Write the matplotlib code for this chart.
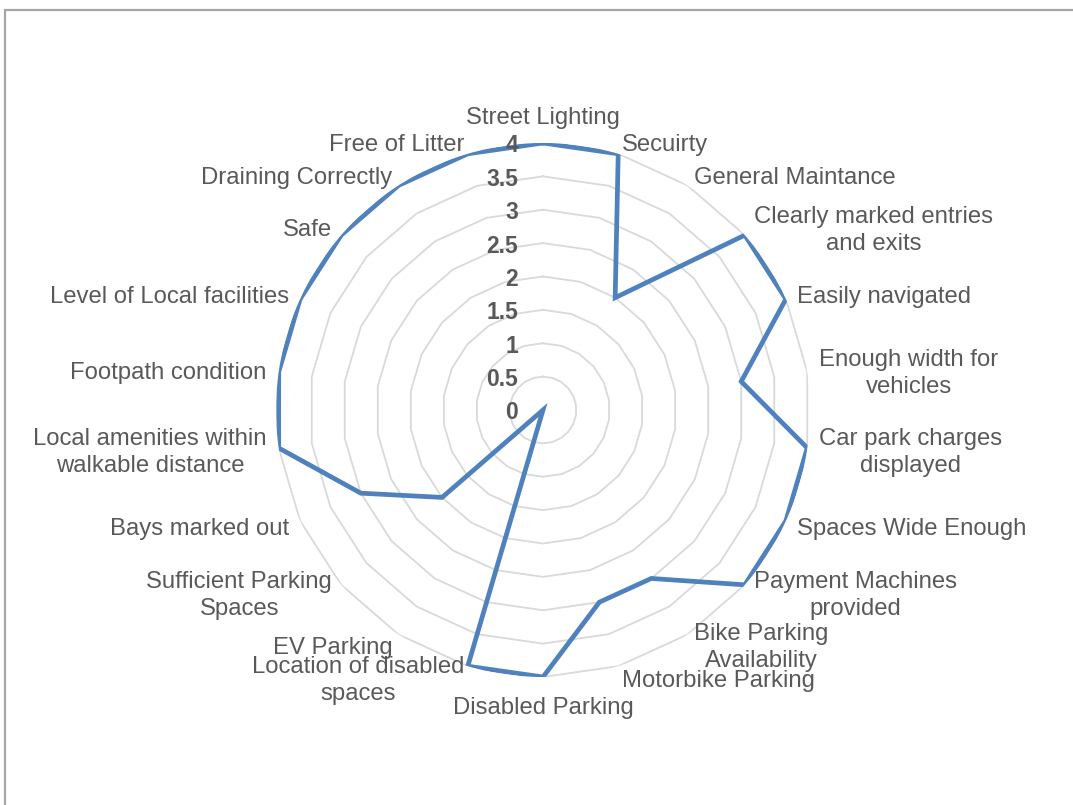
import numpy as np
import matplotlib
matplotlib.use('Agg')
import matplotlib.pyplot as plt
from matplotlib.patches import Rectangle

categories = [
    'Street Lighting', 'Secuirty', 'General Maintance',
    'Clearly marked entries\nand exits', 'Easily navigated',
    'Enough width for\nvehicles', 'Car park charges\ndisplayed',
    'Spaces Wide Enough', 'Payment Machines\nprovided',
    'Bike Parking\nAvailability', 'Motorbike Parking', 'Disabled Parking',
    'Location of disabled\nspaces', 'EV Parking',
    'Sufficient Parking\nSpaces', 'Bays marked out',
    'Local amenities within\nwalkable distance', 'Footpath condition',
    'Level of Local facilities', 'Safe', 'Draining Correctly',
    'Free of Litter',
]
scores = [4, 4, 2, 4, 4, 3, 4, 4, 4, 3, 3, 4, 4, 0, 2, 3, 4, 4, 4, 4, 4, 4]
ring_levels = [0.5, 1, 1.5, 2, 2.5, 3, 3.5, 4]
ring_labels = ['0', '0.5', '1', '1.5', '2', '2.5', '3', '3.5', '4']

plt.rcParams['font.family'] = ['Liberation Sans', 'DejaVu Sans']
TEXT = '#595959'
LINE = '#4f81bd'

fig = plt.figure(figsize=(10.73, 8.05), dpi=100)
fig.patches.append(Rectangle((5 / 1073, -0.1), 1.2, 1 - 10 / 805 + 0.1,
                             transform=fig.transFigure, fill=False,
                             edgecolor='#a6a6a6', linewidth=1.6))

ax = fig.add_axes([0.2572, 0.159, 0.4977, 0.6634], projection='polar')
ax.set_theta_zero_location('N')
ax.set_theta_direction(-1)
ax.set_ylim(0, 4)
ax.grid(False)
ax.spines['polar'].set_visible(False)
ax.set_xticks([])
ax.set_yticks([])

n = len(categories)
angles = np.arange(n) * 2 * np.pi / n
closed = np.append(angles, angles[0])

# polygon grid rings
for lvl in ring_levels:
    ax.plot(closed, [lvl] * (n + 1), color='#d9d9d9', lw=1.3, zorder=1)

# data
vals = np.append(scores, scores[0])
ax.plot(closed, vals, color=LINE, lw=3.4, solid_joinstyle='miter', zorder=3)

# radial tick labels
for i, lab in enumerate(ring_labels):
    ax.annotate(lab, xy=(0, i * 0.5), xytext=(-25, -3), textcoords='offset pixels',
                ha='right', va='center', fontsize=16.5, fontweight='bold',
                color=TEXT, zorder=4)

# category labels
for ang, lab in zip(angles, categories):
    s, c = np.sin(ang), np.cos(ang)
    if abs(s) < 0.1:
        ha = 'center'
        va = 'bottom' if c > 0 else 'top'
        off = 17
    else:
        ha = 'left' if s > 0 else 'right'
        va = 'center'
        off = 12
    ax.annotate(lab, xy=(ang, 4), xytext=(off * s, off * c - 3),
                textcoords='offset pixels', ha=ha, va=va, fontsize=17.2,
                color=TEXT, multialignment='center', linespacing=1.3,
                annotation_clip=False)

fig.savefig('out.png', dpi=100)
